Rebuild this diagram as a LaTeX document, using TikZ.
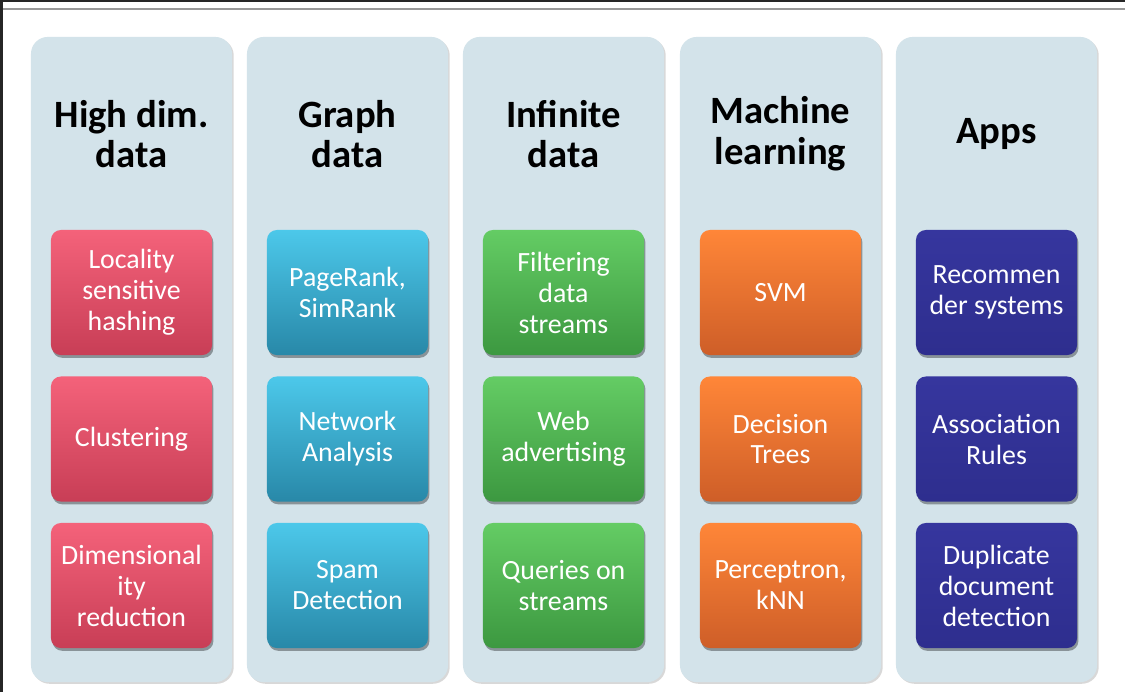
\documentclass[tikz,border=0pt]{standalone}
\usepackage{fontspec}
\setmainfont{Carlito}
\usetikzlibrary{shadows}

\definecolor{colbg}{RGB}{211,227,234}
\definecolor{redtop}{RGB}{244,98,122}
\definecolor{redbot}{RGB}{200,62,86}
\definecolor{bluetop}{RGB}{76,200,234}
\definecolor{bluebot}{RGB}{40,136,168}
\definecolor{greentop}{RGB}{100,204,100}
\definecolor{greenbot}{RGB}{60,152,64}
\definecolor{orangetop}{RGB}{255,134,56}
\definecolor{orangebot}{RGB}{206,94,40}
\definecolor{indigotop}{RGB}{54,54,158}
\definecolor{indigobot}{RGB}{46,46,142}

\tikzset{
  column/.style={rectangle, rounded corners=12pt, fill=colbg,
    minimum width=5.025cm, minimum height=16.125cm,
    drop shadow={shadow xshift=1.2pt, shadow yshift=-1.2pt, opacity=0.3, fill=gray}},
  heading/.style={align=center, font=\fontsize{27.5}{29}\selectfont\bfseries},
  topic/.style={rectangle, rounded corners=7pt, align=center, text=white,
    minimum width=4.025cm, minimum height=3.125cm,
    font=\fontsize{19.8}{22}\selectfont,
    drop shadow={shadow xshift=1pt, shadow yshift=-2pt, opacity=0.35, fill=black}},
  redbox/.style={topic, top color=redtop, bottom color=redbot},
  bluebox/.style={topic, top color=bluetop, bottom color=bluebot},
  greenbox/.style={topic, top color=greentop, bottom color=greenbot},
  orangebox/.style={topic, top color=orangetop, bottom color=orangebot},
  indigobox/.style={topic, top color=indigotop, bottom color=indigobot}
}

\begin{document}
\begin{tikzpicture}[x=0.025cm, y=-0.025cm]
    \useasboundingbox (0,0) rectangle (1125,692);
    \fill[white] (0,0) rectangle (1125,692);
    % window edges
    \fill[black!85] (0,0) rectangle (1125,2);
    \fill[black!85] (0,0) rectangle (3,692);
    \fill[black!40] (3,8) rectangle (1125,10);

    % columns
    \node[column] (c1) at (131.5,359.5) {};
    \node[column] (c2) at (347.5,359.5) {};
    \node[column] (c3) at (563.5,359.5) {};
    \node[column] (c4) at (780.5,359.5) {};
    \node[column] (c5) at (996.5,359.5) {};

    \node[heading] (t1) at (131.5,134) {High dim.\\data};
    \node[heading] (t2) at (347.5,134) {Graph\\data};
    \node[heading] (t3) at (563.5,134) {Infinite\\data};
    \node[heading] (t4) at (780.5,134) {Machine\\learning};
    \node[heading] (t5) at (996.5,134) {Apps};

    % high dim. data
    \node[redbox] (lsh) at (131.5,292.5) {Locality\\sensitive\\hashing};
    \node[redbox] (clust) at (131.5,439) {Clustering};
    \node[redbox] (dimred) at (131.5,585.5) {Dimensional\\ity\\reduction};

    % graph data
    \node[bluebox] (prank) at (347.5,292.5) {PageRank,\\SimRank};
    \node[bluebox] (netan) at (347.5,439) {Network\\Analysis};
    \node[bluebox] (spam) at (347.5,585.5) {Spam\\Detection};

    % infinite data
    \node[greenbox] (filt) at (563.5,292.5) {Filtering\\data\\streams};
    \node[greenbox] (webad) at (563.5,439) {Web\\advertising};
    \node[greenbox] (query) at (563.5,585.5) {Queries on\\streams};

    % machine learning
    \node[orangebox] (svm) at (780.5,292.5) {SVM};
    \node[orangebox] (dtree) at (780.5,439) {Decision\\Trees};
    \node[orangebox] (perc) at (780.5,585.5) {Perceptron,\\kNN};

    % apps
    \node[indigobox] (recsys) at (996.5,292.5) {Recommen\\der systems};
    \node[indigobox] (assoc) at (996.5,439) {Association\\Rules};
    \node[indigobox] (dupdet) at (996.5,585.5) {Duplicate\\document\\detection};
\end{tikzpicture}
\end{document}
